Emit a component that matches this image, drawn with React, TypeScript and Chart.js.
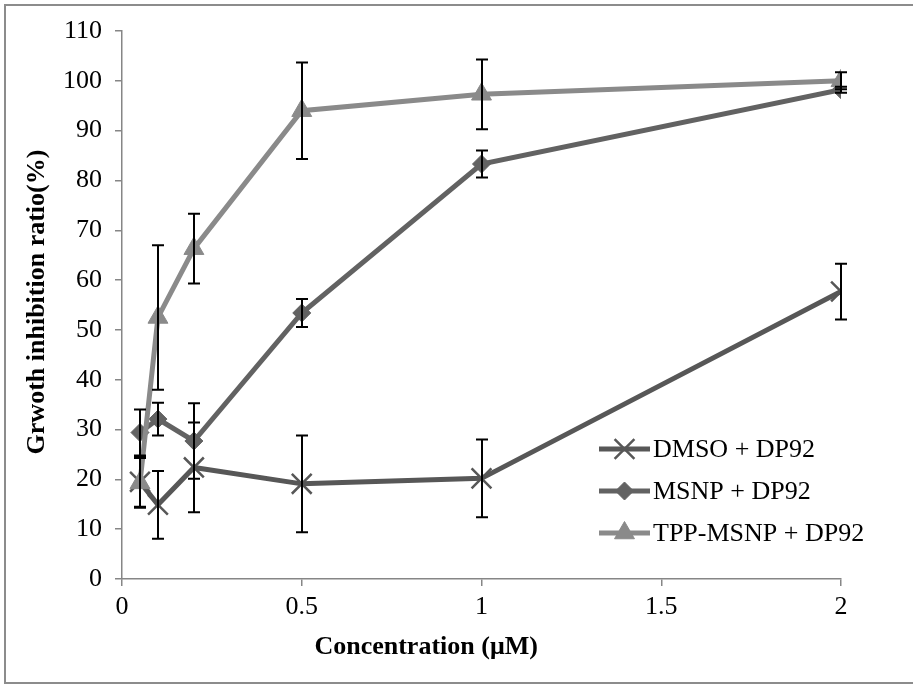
import React, { useEffect, useRef } from 'react';
import { Chart, registerables } from 'chart.js';
import { drawPoint } from 'chart.js/helpers';

Chart.register(...registerables);

const concentrations = [0.05, 0.1, 0.2, 0.5, 1, 2];
const seriesNames = ['DMSO + DP92', 'MSNP + DP92', 'TPP-MSNP + DP92'];
const dmsoValues = [19.5, 14.9, 22.4, 19.1, 20.2, 57.7];
const dmsoErrors = [5, 6.8, 9, 9.7, 7.8, 5.6];
const msnpValues = [29.4, 32.1, 27.7, 53.4, 83.3, 98.2];
const msnpErrors = [4.6, 3.3, 7.6, 2.8, 2.7, 0.6];
const tppValues = [19.3, 52.5, 66.3, 94, 97.3, 100];
const tppErrors = [5, 14.5, 7, 9.7, 7, 1.7];
const xTickLabels = ['0', '0.5', '1', '1.5', '2'];
const xTickValues = [0, 0.5, 1, 1.5, 2];
const yTickValues = [0, 10, 20, 30, 40, 50, 60, 70, 80, 90, 100, 110];
const xTitle = 'Concentration (μM)';
const yTitle = 'Grwoth inhibition ratio(%)';

const FONT = '"Liberation Serif", "Times New Roman", serif';
const AXIS_GRAY = '#868686';

const seriesStyles = [
  { color: '#575757', pointStyle: 'crossRot', radius: 14, pbw: 2.5 },
  { color: '#626262', pointStyle: 'rectRot', radius: 9, pbw: 1 },
  { color: '#8a8a8a', pointStyle: 'triangle', radius: 11.5, pbw: 1 },
];
const seriesValues = [dmsoValues, msnpValues, tppValues];
const seriesErrors = [dmsoErrors, msnpErrors, tppErrors];

const decorPlugin = {
  id: 'decor',
  beforeDraw(chart: any) {
    const ctx = chart.ctx;
    ctx.save();
    ctx.fillStyle = '#ffffff';
    ctx.fillRect(0, 0, chart.width, chart.height);
    ctx.strokeStyle = '#8c8c8c';
    ctx.lineWidth = 2;
    ctx.strokeRect(5, 5, chart.width + 10, chart.height - 11);
    ctx.restore();
  },
  afterDatasetsDraw(chart: any) {
    const ctx = chart.ctx;
    const xs = chart.scales.x;
    const ys = chart.scales.y;
    ctx.save();
    ctx.strokeStyle = '#000000';
    ctx.lineWidth = 2;
    seriesValues.forEach((vals, si) => {
      vals.forEach((v, i) => {
        const e = seriesErrors[si][i];
        const px = Math.round(xs.getPixelForValue(concentrations[i]));
        const top = ys.getPixelForValue(v + e);
        const bot = ys.getPixelForValue(v - e);
        ctx.beginPath();
        ctx.moveTo(px, top);
        ctx.lineTo(px, bot);
        ctx.moveTo(px - 6, top);
        ctx.lineTo(px + 6, top);
        ctx.moveTo(px - 6, bot);
        ctx.lineTo(px + 6, bot);
        ctx.stroke();
      });
    });
    ctx.restore();
  },
  afterDraw(chart: any) {
    const ctx = chart.ctx;
    const area = chart.chartArea;
    ctx.save();
    ctx.fillStyle = '#000000';
    ctx.font = `bold 26px ${FONT}`;
    ctx.textAlign = 'center';
    ctx.textBaseline = 'middle';
    ctx.fillText(xTitle, area.left + (area.right - area.left) * 0.423, area.bottom + 68);
    ctx.save();
    ctx.translate(37, (area.top + area.bottom) / 2 - 3);
    ctx.rotate(-Math.PI / 2);
    ctx.fillText(yTitle, 0, 0);
    ctx.restore();
    ctx.font = `26px ${FONT}`;
    ctx.textAlign = 'left';
    seriesNames.forEach((name, i) => {
      const st = seriesStyles[i];
      const y = area.bottom - 130 + 42 * i;
      const x0 = area.right - 242;
      const x1 = area.right - 191;
      ctx.strokeStyle = st.color;
      ctx.lineWidth = 5;
      ctx.beginPath();
      ctx.moveTo(x0, y);
      ctx.lineTo(x1, y);
      ctx.stroke();
      ctx.fillStyle = st.color;
      ctx.strokeStyle = st.color;
      ctx.lineWidth = st.pbw;
      drawPoint(ctx, { pointStyle: st.pointStyle as any, radius: st.radius, rotation: 0, borderWidth: st.pbw }, (x0 + x1) / 2, y);
      ctx.fillStyle = '#000000';
      ctx.fillText(name, area.right - 188, y + 1);
    });
    ctx.restore();
  },
};

export default function App() {
  const ref = useRef<HTMLCanvasElement | null>(null);
  useEffect(() => {
    if (!ref.current) return;
    const datasets = seriesNames.map((name, si) => {
      const st = seriesStyles[si];
      return {
        label: name,
        data: concentrations.map((c, i) => ({ x: c, y: seriesValues[si][i] })),
        borderColor: st.color,
        backgroundColor: st.color,
        borderWidth: 5,
        pointStyle: st.pointStyle,
        pointRadius: st.radius,
        pointBorderWidth: st.pbw,
        pointBorderColor: st.color,
        pointBackgroundColor: st.color,
        tension: 0,
        order: 3 - si,
      };
    });
    const chart = new Chart(ref.current, {
      type: 'line',
      data: { datasets: datasets as any },
      options: {
        animation: false,
        responsive: false,
        maintainAspectRatio: false,
        layout: { padding: { left: 0, right: 72, top: 31, bottom: 0 } },
        plugins: { legend: { display: false }, tooltip: { enabled: false } },
        scales: {
          x: {
            type: 'linear',
            min: 0,
            max: 2,
            afterFit: (s: any) => { s.height = 110; },
            afterBuildTicks: (s: any) => { s.ticks = xTickValues.map((v) => ({ value: v })); },
            ticks: {
              font: { family: FONT, size: 26 },
              color: '#000000',
              padding: 6,
              maxRotation: 0,
              callback: (v: any) => {
                const idx = xTickValues.indexOf(Number(v));
                return idx >= 0 ? xTickLabels[idx] : '';
              },
            },
            grid: { drawOnChartArea: false, drawTicks: true, tickLength: 7, color: AXIS_GRAY, lineWidth: 1.5 },
            border: { color: AXIS_GRAY, width: 1.5 },
          },
          y: {
            type: 'linear',
            min: 0,
            max: 110,
            afterFit: (s: any) => { s.width = 122; },
            afterBuildTicks: (s: any) => { s.ticks = yTickValues.map((v) => ({ value: v })); },
            ticks: {
              font: { family: FONT, size: 26 },
              color: '#000000',
              padding: 13,
            },
            grid: { drawOnChartArea: false, drawTicks: true, tickLength: 7, color: AXIS_GRAY, lineWidth: 1.5 },
            border: { color: AXIS_GRAY, width: 1.5 },
          },
        },
      },
      plugins: [decorPlugin],
    });
    return () => chart.destroy();
  }, []);
  return (
    <div style={{ position: 'fixed', left: 0, top: 0, width: 913, height: 689, background: '#fff' }}>
      <canvas ref={ref} width={913} height={689} style={{ width: 913, height: 689, display: 'block' }} />
    </div>
  );
}
